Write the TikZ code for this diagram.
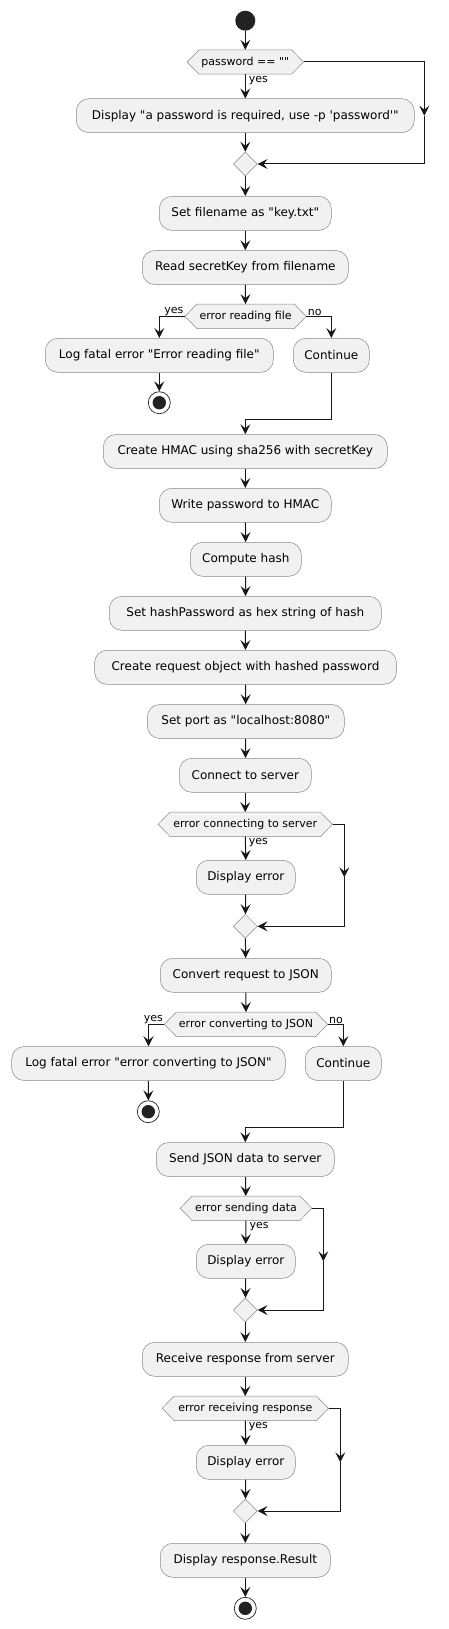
\documentclass[tikz,border=0pt]{standalone}
\usepackage{fontspec}
\newfontfamily\dvs{DejaVu Sans}
\usetikzlibrary{arrows.meta,backgrounds,shapes.geometric}
\definecolor{boxfill}{HTML}{F1F1F1}
\definecolor{boxline}{HTML}{888888}
\definecolor{arrcol}{HTML}{181818}
\definecolor{dotcol}{HTML}{222222}
\tikzset{
  act/.style={draw=boxline, fill=boxfill, line width=0.5pt, rounded corners=12.5pt,
    minimum height=34pt, inner xsep=0pt, inner ysep=0pt,
    font=\dvs\fontsize{12}{14}\selectfont, text=black},
  dectext/.style={minimum height=24pt, inner sep=0pt, font=\dvs\fontsize{11}{13}\selectfont, text=black},
  decshape/.style={draw=boxline, fill=boxfill, line width=0.5pt},
  mergebox/.style={diamond, shape aspect=1, draw=boxline, fill=boxfill, line width=0.5pt,
    minimum width=24pt, minimum height=24pt, inner sep=0pt},
  lbl/.style={font=\dvs\fontsize{11}{13}\selectfont, inner sep=0pt, text=black},
  arr/.style={draw=arrcol, line width=1pt, -{Stealth[length=10pt,width=10pt,inset=4pt]}},
  startdot/.style={circle, fill=dotcol, minimum size=20pt, inner sep=0pt},
  stopdot/.style={circle, draw=dotcol, line width=0.7pt, fill=white, minimum size=22pt, inner sep=0pt,
    path picture={\fill[dotcol] (path picture bounding box.center) circle (6.7pt);}},
}
\newcommand{\hexdec}[1]{\filldraw[decshape] (#1.west) -- ([xshift=12pt]#1.north west) -- ([xshift=-12pt]#1.north east) -- (#1.east) -- ([xshift=-12pt]#1.south east) -- ([xshift=12pt]#1.south west) -- cycle;}
\begin{document}
\begin{tikzpicture}[x=1pt,y=-1pt]
\useasboundingbox (0,0) rectangle (449,1629);

\node[startdot] (start) at (245.3,20.7) {};
\node[dectext, minimum width=116pt] (d1) at (245.3,62) {password == ""};
\node[act, minimum width=338pt] (a1) at (245.3,115.7) {Display "a password is required, use -p 'password'"};
\node[mergebox] (m1) at (245.3,164) {};
\coordinate (c1) at (424.3,115.7);

\node[act, minimum width=172pt] (a2) at (245.3,213.3) {Set filename as "key.txt"};
\node[act, minimum width=206pt] (a3) at (245.3,267.5) {Read secretKey from filename};
\node[dectext, minimum width=121pt] (d2) at (245.6,316.3) {error reading file};
\node[act, minimum width=228pt] (a4) at (159.3,355.3) {Log fatal error "Error reading file"};
\node[act, minimum width=76pt] (a5) at (331.3,355.3) {Continue};
\node[stopdot] (s1) at (159.3,402.7) {};
\coordinate (j1) at (245.3,419.3);

\node[act, minimum width=284pt] (a6) at (245.3,451.5) {Create HMAC using sha256 with secretKey};
\node[act, minimum width=172pt] (a7) at (245.3,505.3) {Write password to HMAC};
\node[act, minimum width=111pt] (a8) at (245.8,559.3) {Compute hash};
\node[act, minimum width=272pt] (a9) at (245.3,613.3) {Set hashPassword as hex string of hash};
\node[act, minimum width=302pt] (a10) at (245.5,667.3) {Create request object with hashed password};
\node[act, minimum width=197pt] (a11) at (245.8,721.5) {Set port as "localhost:8080"};
\node[act, minimum width=132pt] (a12) at (245.3,775.3) {Connect to server};
\node[dectext, minimum width=174pt] (d3) at (245.3,824.3) {error connecting to server};
\node[act, minimum width=99pt] (a13) at (245.8,877.3) {Display error};
\node[mergebox] (m2) at (245.3,926.3) {};
\coordinate (c3) at (344.3,877.3);

\node[act, minimum width=171pt] (a14) at (245.8,975.3) {Convert request to JSON};
\node[dectext, minimum width=163pt] (d4) at (246,1024.3) {error converting to JSON};
\node[act, minimum width=273.6pt] (a15) at (148.5,1063.5) {Log fatal error "error converting to JSON"};
\node[act, minimum width=76pt] (a16) at (343.3,1063.5) {Continue};
\node[stopdot] (s2) at (148.3,1111.7) {};
\coordinate (j2) at (245.3,1127.3);

\node[act, minimum width=178pt] (a17) at (245.3,1159.5) {Send JSON data to server};
\node[dectext, minimum width=131.4pt] (d5) at (246,1208.3) {error sending data};
\node[act, minimum width=99pt] (a18) at (245.8,1261.3) {Display error};
\node[mergebox] (m3) at (245.3,1310) {};
\coordinate (c5) at (323.3,1261.3);

\node[act, minimum width=206pt] (a19) at (245.3,1359.3) {Receive response from server};
\node[dectext, minimum width=166pt] (d6) at (245.3,1408.3) {error receiving response};
\node[act, minimum width=99pt] (a20) at (245.8,1462.3) {Display error};
\node[mergebox] (m4) at (245.3,1511) {};
\coordinate (c6) at (340.3,1462.3);
\node[act, minimum width=170pt] (a21) at (245.3,1560.3) {Display response.Result};
\node[stopdot] (s3) at (245.3,1608.3) {};

\begin{scope}[on background layer]
\fill[white] (0,0) rectangle (449,1629);
\hexdec{d1}
\hexdec{d2}
\hexdec{d3}
\hexdec{d4}
\hexdec{d5}
\hexdec{d6}
\end{scope}

% connectors
\draw[arr] (start) -- (d1);
\draw[arr] (d1.south) -- node[lbl, pos=0, anchor=north west, xshift=3pt, yshift=-1.5pt] {yes} (a1.north);
\draw[arr] (a1) -- (m1);
\draw[arr] (d1.east) -| (c1);
\draw[arr] (c1) |- (m1.east);
\draw[arr] (m1) -- (a2);
\draw[arr] (a2) -- (a3);
\draw[arr] (a3) -- (d2);
\draw[arr] (d2.west) -| node[lbl, pos=0, anchor=south east, xshift=-1pt, yshift=0.5pt] {yes} (a4.north);
\draw[arr] (d2.east) -| node[lbl, pos=0, anchor=south west, xshift=1pt, yshift=0.5pt] {no} (a5.north);
\draw[arr] (a4) -- (s1);
\draw[arr] (a5.south) |- (j1) -- (a6.north);
\draw[arr] (a6) -- (a7);
\draw[arr] (a7) -- (a8);
\draw[arr] (a8) -- (a9);
\draw[arr] (a9) -- (a10);
\draw[arr] (a10) -- (a11);
\draw[arr] (a11) -- (a12);
\draw[arr] (a12) -- (d3);
\draw[arr] (d3.south) -- node[lbl, pos=0, anchor=north west, xshift=3pt, yshift=-1.5pt] {yes} (a13.north);
\draw[arr] (a13) -- (m2);
\draw[arr] (d3.east) -| (c3);
\draw[arr] (c3) |- (m2.east);
\draw[arr] (m2) -- (a14);
\draw[arr] (a14) -- (d4);
\draw[arr] (d4.west) -| node[lbl, pos=0, anchor=south east, xshift=-1pt, yshift=0.5pt] {yes} (a15.north);
\draw[arr] (d4.east) -| node[lbl, pos=0, anchor=south west, xshift=1pt, yshift=0.5pt] {no} (a16.north);
\draw[arr] (a15) -- (s2);
\draw[arr] (a16.south) |- (j2) -- (a17.north);
\draw[arr] (a17) -- (d5);
\draw[arr] (d5.south) -- node[lbl, pos=0, anchor=north west, xshift=3pt, yshift=-1.5pt] {yes} (a18.north);
\draw[arr] (a18) -- (m3);
\draw[arr] (d5.east) -| (c5);
\draw[arr] (c5) |- (m3.east);
\draw[arr] (m3) -- (a19);
\draw[arr] (a19) -- (d6);
\draw[arr] (d6.south) -- node[lbl, pos=0, anchor=north west, xshift=3pt, yshift=-1.5pt] {yes} (a20.north);
\draw[arr] (a20) -- (m4);
\draw[arr] (d6.east) -| (c6);
\draw[arr] (c6) |- (m4.east);
\draw[arr] (m4) -- (a21);
\draw[arr] (a21) -- (s3);
\end{tikzpicture}
\end{document}
